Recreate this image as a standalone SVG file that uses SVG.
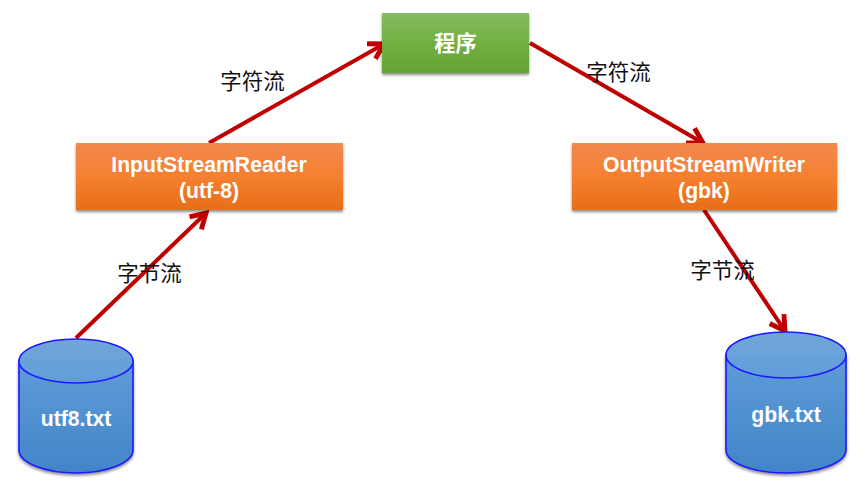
<svg xmlns="http://www.w3.org/2000/svg" width="858" height="481" viewBox="0 0 858 481">
<style>
.lab{font-family:"Liberation Sans","Noto Sans CJK SC",sans-serif;font-weight:700;fill:#fff;text-anchor:middle;font-size:21.200px}
.edge{font-family:"Noto Sans CJK SC","Liberation Sans",sans-serif;fill:#111;text-anchor:middle;font-size:21.500px}
.con{fill:none;stroke:#c00000;stroke-width:4;marker-end:url(#arr)}
.cyl{stroke:#1a1aff;stroke-width:1.600}
.box{filter:url(#sh)}
</style>
<defs>
<linearGradient id="or" x1="0" y1="0" x2="0" y2="1"><stop offset="0" stop-color="#f2884f"/><stop offset="0.5" stop-color="#f58030"/><stop offset="1" stop-color="#e76e1a"/></linearGradient>
<linearGradient id="gr" x1="0" y1="0" x2="0" y2="1"><stop offset="0" stop-color="#84bb60"/><stop offset="0.5" stop-color="#72b043"/><stop offset="1" stop-color="#64a333"/></linearGradient>
<linearGradient id="bl" x1="0" y1="0" x2="0" y2="1"><stop offset="0" stop-color="#5f9cd8"/><stop offset="1" stop-color="#4285c8"/></linearGradient>
<linearGradient id="blt" x1="0" y1="0" x2="0" y2="1"><stop offset="0" stop-color="#72a6da"/><stop offset="1" stop-color="#609dd9"/></linearGradient>
<filter id="sh" x="-5%" y="-10%" width="110%" height="125%"><feDropShadow dx="0" dy="2" stdDeviation="1.5" flood-color="#000" flood-opacity="0.45"/></filter>
<marker id="arr" markerUnits="userSpaceOnUse" markerWidth="22" markerHeight="22" refX="15" refY="9" orient="auto" viewBox="0 0 18 18"><path d="M3 2L15 9L3 16" fill="none" stroke="#c00000" stroke-width="4"/></marker>
</defs>
<g id="connectors">
<line class="con" x1="76" y1="338" x2="206" y2="213"/>
<line class="con" x1="209" y1="143" x2="384" y2="44"/>
<line class="con" x1="530" y1="43" x2="703" y2="143"/>
<line class="con" x1="704" y1="210" x2="785" y2="331"/>
</g>
<g id="node-program"><rect class="box" x="382" y="13" width="147" height="60" fill="url(#gr)"/><text class="lab" x="455.500" y="51">程序</text></g>
<g id="node-reader"><rect class="box" x="76" y="143" width="267" height="67" fill="url(#or)"/><text class="lab" x="209" y="172">InputStreamReader</text><text class="lab" x="209" y="198">(utf-8)</text></g>
<g id="node-writer"><rect class="box" x="572" y="143" width="265" height="67" fill="url(#or)"/><text class="lab" x="704" y="172">OutputStreamWriter</text><text class="lab" x="704" y="198">(gbk)</text></g>
<g id="node-utf8"><path class="cyl" filter="url(#sh)" d="M19 361V450A57 23 0 0 0 133 450V361Z" fill="url(#bl)"/><ellipse class="cyl" cx="76" cy="361" rx="57" ry="22" fill="url(#blt)"/><text class="lab" x="76" y="426">utf8.txt</text></g>
<g id="node-gbk"><path class="cyl" filter="url(#sh)" d="M726 355V450A60 23 0 0 0 846 450V355Z" fill="url(#bl)"/><ellipse class="cyl" cx="786" cy="355" rx="60" ry="23" fill="url(#blt)"/><text class="lab" x="786" y="422">gbk.txt</text></g>
<g id="edge-labels">
<text class="edge" x="252.500" y="89">字符流</text>
<text class="edge" x="618.500" y="80">字符流</text>
<text class="edge" x="149.500" y="281">字节流</text>
<text class="edge" x="722.500" y="278">字节流</text>
</g>
</svg>
